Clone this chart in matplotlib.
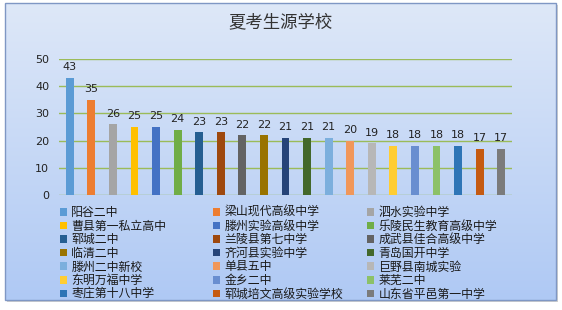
"""Column chart: source schools for the summer exam (recreated)."""
import numpy as np
import matplotlib
matplotlib.use("Agg")
import matplotlib.pyplot as plt
from matplotlib.patches import Patch, Rectangle

plt.rcParams["font.family"] = ["Noto Sans CJK SC", "DejaVu Sans"]

# --- Data ---
SCHOOLS = [
    "阳谷二中", "梁山现代高级中学", "泗水实验中学",
    "曹县第一私立高中", "滕州实验高级中学", "乐陵民生教育高级中学",
    "郓城二中", "兰陵县第七中学", "成武县佳合高级中学",
    "临清二中", "齐河县实验中学", "青岛国开中学",
    "滕州二中新校", "单县五中", "巨野县南城实验",
    "东明万福中学", "金乡二中", "莱芜二中",
    "枣庄第十八中学", "郓城培文高级实验学校", "山东省平邑第一中学",
]
COUNTS = [43, 35, 26, 25, 25, 24, 23, 23, 22, 22, 21,
          21, 21, 20, 19, 18, 18, 18, 18, 17, 17]
Y_TICKS = [0, 10, 20, 30, 40, 50]
TITLE = "夏考生源学校"

# Office-style series colours
COLORS = [
    "#5B9BD5", "#ED7D31", "#A5A5A5", "#FFC000", "#4472C4", "#70AD47",
    "#255E91", "#9E480E", "#636363", "#997300", "#264478", "#43682B",
    "#7CAFDD", "#F1975A", "#B7B7B7", "#FFCD33", "#698ED0", "#8CC168",
    "#2E75B6", "#C55A11", "#7B7B7B",
]

W, H = 562, 310
fig = plt.figure(figsize=(W / 100, H / 100), dpi=100)
fig.patch.set_facecolor("white")

# --- Chart frame with gradient background ---
bg = fig.add_axes([0, 0, 1, 1], zorder=-5)
bx0, by0, bx1, by1 = 5, 3, 556, 300
bg.add_patch(Rectangle((bx0 + 2, by0 + 2), bx1 - bx0, by1 - by0,
                       facecolor="#cfcfcf", edgecolor="none", zorder=0))
grad = np.linspace(0, 1, 256).reshape(-1, 1)
top = np.array([0xDE, 0xE8, 0xF8]) / 255
bot = np.array([0xAF, 0xC9, 0xF4]) / 255
img = top + (bot - top) * grad[..., None]
bg.imshow(img, extent=(bx0, bx1, by1, by0), aspect="auto",
          interpolation="bilinear", zorder=1)
bg.add_patch(Rectangle((bx0, by0), bx1 - bx0, by1 - by0,
                       facecolor="none", edgecolor="#7F97C4", linewidth=1, zorder=2))
bg.set_xlim(0, W)
bg.set_ylim(H, 0)
bg.axis("off")

fig.text(281 / W, 1 - 22 / H, TITLE, ha="center", va="center",
         fontsize=12.5, color="#333333")

# --- Plot area ---
ax = fig.add_axes([59 / W, 1 - 195 / H, (512 - 59) / W, (195 - 59) / H])
ax.set_facecolor("none")
x = np.arange(len(COUNTS))
ax.bar(x, COUNTS, width=0.37, color=COLORS, zorder=3)
for xi, v in zip(x, COUNTS):
    ax.annotate(f"{v}", (xi, v), xytext=(0, 4), textcoords="offset points",
                ha="center", va="bottom", fontsize=8, color="#222222",
                family="DejaVu Sans")

ax.set_xlim(-0.5, len(COUNTS) - 0.5)
ax.set_ylim(0, 50)
ax.set_yticks(Y_TICKS)
ax.set_xticks([])
ax.yaxis.grid(True, color="#9BBB59", linewidth=1, zorder=0)
ax.set_axisbelow(True)
for s in ax.spines.values():
    s.set_visible(False)
ax.tick_params(axis="y", length=0, pad=7, labelsize=8, labelcolor="#222222")
for lbl in ax.get_yticklabels():
    lbl.set_family("DejaVu Sans")

# --- Legend: three columns, row-major order ---
handles = [Patch(facecolor=c, edgecolor="none") for c in COLORS]
col_x = [60, 213, 367]
for c in range(3):
    idx = list(range(c, len(SCHOOLS), 3))
    fig.legend([handles[i] for i in idx], [SCHOOLS[i] for i in idx],
               loc="upper left", bbox_to_anchor=(col_x[c] / W, 1 - 206 / H),
               frameon=False, fontsize=8.6, borderpad=0, borderaxespad=0,
               handlelength=0.6, handleheight=0.6, handletextpad=0.35,
               labelspacing=0.05, labelcolor="#1a1a1a")

fig.savefig("out.png", dpi=100, facecolor="white")
